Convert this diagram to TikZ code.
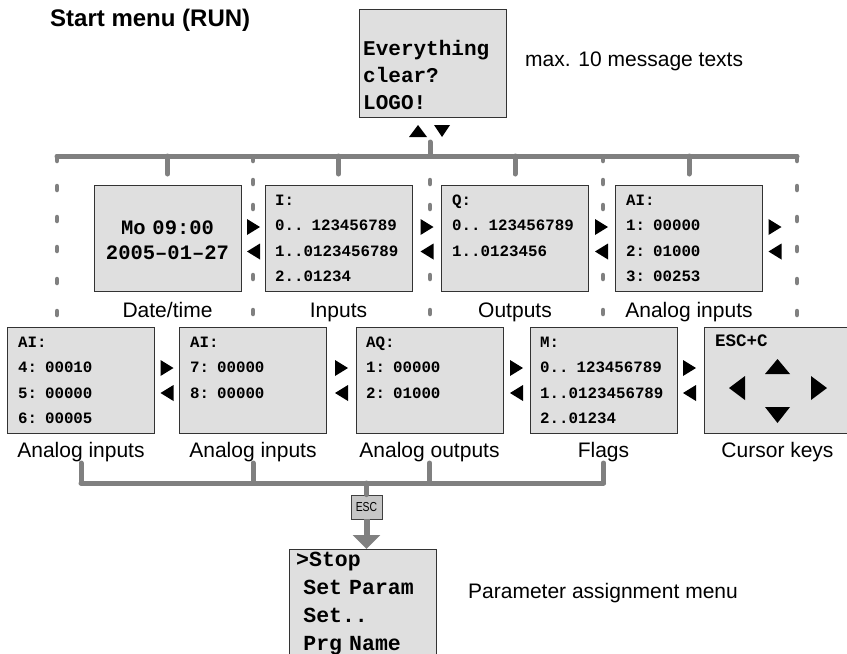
\documentclass[tikz,border=0pt]{standalone}
\usepackage{fontspec}
\setmainfont{Liberation Sans}
\newfontfamily\lcdfont{Liberation Mono}
\usetikzlibrary{arrows.meta,calc}
\definecolor{lcdfill}{HTML}{DFDFDF}
\definecolor{busgray}{HTML}{808080}
\definecolor{escfill}{HTML}{C6C6C6}
\begin{document}
\begin{tikzpicture}[x=1pt,y=-1pt,
  lcdbox/.style={draw=black!80, fill=lcdfill, line width=0.9pt, minimum width=147pt, minimum height=106pt, inner sep=0pt, outer sep=0pt},
  lcdtxt/.style={anchor=base west, inner sep=0pt, text width=135pt, align=left, font=\lcdfont\bfseries\fontsize{15.8}{25.5}\selectfont},
  lcdbig/.style={anchor=base west, inner sep=0pt, text width=140pt, align=left, font=\lcdfont\bfseries\fontsize{21}{27}\selectfont},
  lbl/.style={anchor=base, inner sep=0pt, font=\fontsize{21}{24}\selectfont},
  bus/.style={draw=busgray, line width=5pt, line cap=round, line join=round},
  dotseg/.style={draw=busgray, line width=4.5pt, line cap=round},
  rtri/.pic={\fill (-6.5,-8) -- (6.5,0) -- (-6.5,8) -- cycle;},
  ltri/.pic={\fill (6.5,-8) -- (-6.5,0) -- (6.5,8) -- cycle;},
]
\useasboundingbox (0,0) rectangle (847,654);

% title and notes
\node[anchor=base west, inner sep=0pt, font=\bfseries\fontsize{24}{28}\selectfont] (title) at (50,26) {Start menu (RUN)};
\node[anchor=base west, inner sep=0pt, font=\fontsize{21}{24}\selectfont] (msgnote) at (525,66) {max. 10 message texts};
\node[anchor=base west, inner sep=0pt, font=\fontsize{21}{24}\selectfont] (menunote) at (468,598) {Parameter assignment menu};

% top display
\node[lcdbox, minimum height=108pt] (top) at (432.5,63) {};
\node[lcdbig] (toptxt) at (363,55) {Everything\\clear?\\LOGO!};
\fill (409,137) -- (427,137) -- (418,125) -- cycle;
\fill (434,125) -- (450,125) -- (442,137) -- cycle;

% top bus
\coordinate (tbL) at (57,156);
\coordinate (tbR) at (797,156);
\coordinate (tbM) at (430,156);
\draw[bus] (tbL) -- (tbR);
\draw[bus] (tbM) -- ++(0,-14);

% row 1 boxes
\node[lcdbox] (dt) at (167.5,238) {};
\node[lcdbox] (inp) at (338.5,238) {};
\node[lcdbox] (outp) at (515,238) {};
\node[lcdbox] (ain1) at (689,238) {};
\foreach \n in {dt,inp,outp,ain1}
  \draw[bus] (\n.north |- tbL) -- ++(0,18);

\node[anchor=base, inner sep=0pt, text width=145pt, align=center, font=\lcdfont\bfseries\fontsize{20.5}{25}\selectfont] (dttxt) at (167.5,234) {Mo 09:00\\2005–01–27};
\node[lcdtxt] (inptxt) at (275,205) {I:\\0.. 123456789\\1..0123456789\\2..01234};
\node[lcdtxt] (outptxt) at (452,205) {Q:\\0.. 123456789\\1..0123456};
\node[lcdtxt] (ain1txt) at (626,205) {AI:\\1: 00000\\2: 01000\\3: 00253};

\node[lbl] (l11) at (167.5,317) {Date/time};
\node[lbl] (l12) at (338.5,317) {Inputs};
\node[lbl] (l13) at (515,317) {Outputs};
\node[lbl] (l14) at (689,317) {Analog inputs};

% dotted separators
\foreach \x in {57,797}
  \foreach \y in {159,188,219,249,281,313}
    \draw[dotseg] (\x,\y-2) -- (\x,\y+2);
\foreach \x in {253,603}
  \foreach \y in {159,182,207,277,312}
    \draw[dotseg] (\x,\y-2) -- (\x,\y+2);
\foreach \y in {182,207,277,312}
  \draw[dotseg] (430,\y-2) -- (430,\y+2);

% row 1 arrows
\foreach \x in {253.5,427,601.5,775} {
  \pic at (\x,227) {rtri};
  \pic at (\x,251.5) {ltri};
}

% row 2 boxes
\node[lcdbox] (ain2) at (81,380) {};
\node[lcdbox] (ain3) at (253,380) {};
\node[lcdbox] (aout) at (429.5,380) {};
\node[lcdbox] (flags) at (603.5,380) {};
\node[lcdbox] (curs) at (777.5,380) {};

\node[lcdtxt] (ain2txt) at (18,347) {AI:\\4: 00010\\5: 00000\\6: 00005};
\node[lcdtxt] (ain3txt) at (190,347) {AI:\\7: 00000\\8: 00000};
\node[lcdtxt] (aouttxt) at (366,347) {AQ:\\1: 00000\\2: 01000};
\node[lcdtxt] (flagstxt) at (540,347) {M:\\0.. 123456789\\1..0123456789\\2..01234};
\node[anchor=base west, inner sep=0pt, font=\lcdfont\bfseries\fontsize{17.5}{20}\selectfont] (curstxt) at (715,346) {ESC+C};
\fill (765,374) -- (790,374) -- (777.5,359) -- cycle;
\fill (765,407) -- (790,407) -- (777.5,423) -- cycle;
\fill (745,376) -- (745,400) -- (729,388) -- cycle;
\fill (811,376) -- (811,400) -- (827,388) -- cycle;

\foreach \x in {167,341.5,516.5,689.5} {
  \pic at (\x,368) {rtri};
  \pic at (\x,393) {ltri};
}

\node[lbl] (l21) at (81,457) {Analog inputs};
\node[lbl] (l22) at (253,457) {Analog inputs};
\node[lbl] (l23) at (429.5,457) {Analog outputs};
\node[lbl] (l24) at (603.5,457) {Flags};
\node[lbl] (l25) at (777.5,457) {Cursor keys};

% bottom bus
\coordinate (bbL) at (81,483);
\coordinate (bbR) at (603.5,483);
\draw[bus] (bbL) -- (bbR);
\foreach \n in {l21,l22,l23,l24}
  \draw[bus] (\n.south |- bbL) -- ++(0,-20);

% ESC key and menu
\node[draw=black!75, fill=escfill, line width=0.8pt, minimum width=31pt, minimum height=24pt, inner sep=0pt, font=\fontsize{13}{13}\selectfont] (esc) at (366.5,507) {\scalebox{0.8}[1]{ESC}};
\draw[bus] (esc.north |- bbL) -- (esc.north);
\node[lcdbox, minimum height=125pt, anchor=north west] (menu) at (289,549) {};
\draw[draw=busgray, line width=6pt, -{Triangle[length=14pt,width=27pt]}] (esc.south) -- (esc.south |- menu.north);
\node[anchor=base west, inner sep=0pt, text width=145pt, align=left, font=\lcdfont\bfseries\fontsize{21.5}{28}\selectfont] (menutxt) at (296,566) {>Stop\\~Set Param\\~Set..\\~Prg Name};
\end{tikzpicture}
\end{document}
